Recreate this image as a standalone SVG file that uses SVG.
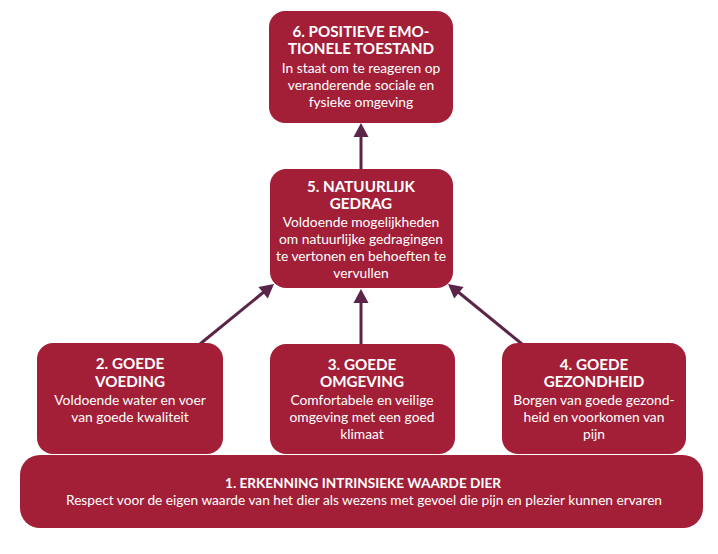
<svg xmlns="http://www.w3.org/2000/svg" width="718" height="554" viewBox="0 0 718 554">
<defs>
<style>
.box{fill:#A31F37;}
.t{font-family:Lato,"Noto Sans",sans-serif;font-weight:bold;font-size:15.2px;fill:#fff;text-anchor:middle;}
.b{font-family:Lato,"Noto Sans",sans-serif;font-size:13.8px;fill:#fff;text-anchor:middle;}
.c{stroke:#5B2549;stroke-width:3;fill:none;}
.h{fill:#5B2549;}
</style>
</defs>
<rect width="718" height="554" fill="#fff"/>
<g id="connectors">
<line class="c" x1="361" y1="169" x2="361" y2="134"/>
<polygon class="h" points="361,123 368.5,137 353.5,137"/>
<line class="c" x1="361" y1="344" x2="361" y2="300"/>
<polygon class="h" points="361,289 368.5,303 353.5,303"/>
<line class="c" x1="200" y1="344" x2="265" y2="291"/>
<polygon class="h" points="274,284 267.8,298.6 258.4,287"/>
<line class="c" x1="522" y1="344" x2="457" y2="291"/>
<polygon class="h" points="448,284 463.6,287 454.2,298.6"/>
</g>
<g id="node6">
<rect class="box" x="269" y="11" width="184" height="112" rx="16"/>
<text class="t" x="361" y="37">6. POSITIEVE EMO-</text>
<text class="t" x="361" y="54">TIONELE TOESTAND</text>
<text class="b" x="361" y="73">In staat om te reageren op</text>
<text class="b" x="361" y="90">veranderende sociale en</text>
<text class="b" x="361" y="107">fysieke omgeving</text>
</g>
<g id="node5">
<rect class="box" x="270" y="169" width="183" height="119" rx="16"/>
<text class="t" x="361" y="192">5. NATUURLIJK</text>
<text class="t" x="361" y="209">GEDRAG</text>
<text class="b" x="361" y="227">Voldoende mogelijkheden</text>
<text class="b" x="361" y="244">om natuurlijke gedragingen</text>
<text class="b" x="361" y="261">te vertonen en behoeften te</text>
<text class="b" x="361" y="278">vervullen</text>
</g>
<g id="node2">
<rect class="box" x="37" y="343" width="186" height="111" rx="16"/>
<text class="t" x="130" y="369">2. GOEDE</text>
<text class="t" x="130" y="387">VOEDING</text>
<text class="b" x="130" y="405">Voldoende water en voer</text>
<text class="b" x="130" y="422">van goede kwaliteit</text>
</g>
<g id="node3">
<rect class="box" x="270" y="344" width="185" height="110" rx="16"/>
<text class="t" x="362" y="370">3. GOEDE</text>
<text class="t" x="362" y="387">OMGEVING</text>
<text class="b" x="362" y="405">Comfortabele en veilige</text>
<text class="b" x="362" y="422">omgeving met een goed</text>
<text class="b" x="362" y="439">klimaat</text>
</g>
<g id="node4">
<rect class="box" x="502" y="343" width="184" height="111" rx="16"/>
<text class="t" x="594" y="370">4. GOEDE</text>
<text class="t" x="594" y="387">GEZONDHEID</text>
<text class="b" x="594" y="405">Borgen van goede gezond-</text>
<text class="b" x="594" y="422">heid en voorkomen van</text>
<text class="b" x="594" y="439">pijn</text>
</g>
<g id="node1">
<rect class="box" x="20" y="455" width="683" height="73" rx="20"/>
<text class="t" x="363" y="488" style="font-size:13px" textLength="276" lengthAdjust="spacingAndGlyphs">1. ERKENNING INTRINSIEKE WAARDE DIER</text>
<text class="b" x="364" y="505" style="font-size:13.5px" textLength="596" lengthAdjust="spacingAndGlyphs">Respect voor de eigen waarde van het dier als wezens met gevoel die pijn en plezier kunnen ervaren</text>
</g>
</svg>
